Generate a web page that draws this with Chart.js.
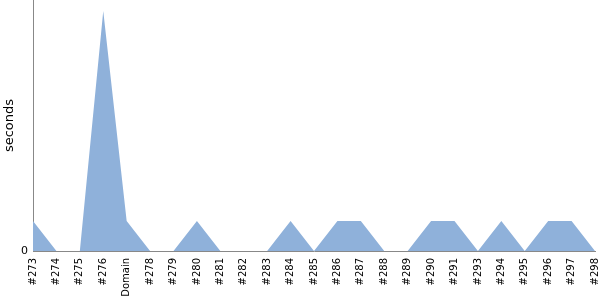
<!DOCTYPE html>
<html>
<head>
<meta charset="utf-8">
<script src="https://cdn.jsdelivr.net/npm/chart.js@4/dist/chart.umd.min.js"></script>
<style>
  html, body { margin: 0; padding: 0; background: #fff; }
  #wrap { width: 600px; height: 300px; }
</style>
</head>
<body>
<div id="wrap"><canvas id="myChart"></canvas></div>
<script>
const builds = ['#273','#274','#275','#276','Domain','#278','#279','#280','#281','#282','#283','#284','#285',
                '#286','#287','#288','#289','#290','#291','#293','#294','#295','#296','#297','#298'];
const seconds = [1,0,0,8,1,0,0,1,0,0,0,1,0,1,1,0,0,1,1,0,1,0,1,1,0];
const yTicks = [0];

Chart.defaults.font.family = 'DejaVu Sans';
Chart.defaults.color = '#000';

const ctx = document.getElementById('myChart').getContext('2d');
const myChart = new Chart(ctx, {
    type: 'line',
    data: {
        labels: builds,
        datasets: [{
            label: 'seconds',
            data: seconds,
            fill: 'origin',
            backgroundColor: 'rgb(143, 177, 218)',
            borderColor: 'rgb(143, 177, 218)',
            borderWidth: 0,
            pointRadius: 0,
            tension: 0
        }]
    },
    options: {
        responsive: true,
        maintainAspectRatio: false,
        animation: false,
        layout: { padding: { top: 0, right: 5, left: 0, bottom: 0 } },
        plugins: { legend: { display: false }, tooltip: { enabled: false } },
        scales: {
            x: {
                offset: false,
                grid: { display: false, drawTicks: false },
                border: { display: true, color: '#888' },
                ticks: { minRotation: 90, maxRotation: 90, autoSkip: false, font: { size: 10 }, padding: 7 },
                afterFit: function(scale) { scale.height = 49; scale.paddingRight = 0; scale.paddingLeft = 0; }
            },
            y: {
                min: 0,
                max: 8.37,
                grid: { display: false, drawTicks: false },
                border: { display: true, color: '#888' },
                title: { display: true, text: 'seconds', font: { size: 13 }, padding: { top: 2, bottom: 0 } },
                ticks: {
                    font: { size: 11 },
                    padding: 5,
                    autoSkip: false,
                    callback: function(v) { return yTicks.includes(v) ? String(v) : ''; }
                },
                afterFit: function(scale) { scale.width = 33; scale.paddingTop = 0; scale.paddingBottom = 0; }
            }
        }
    }
});
</script>
</body>
</html>
